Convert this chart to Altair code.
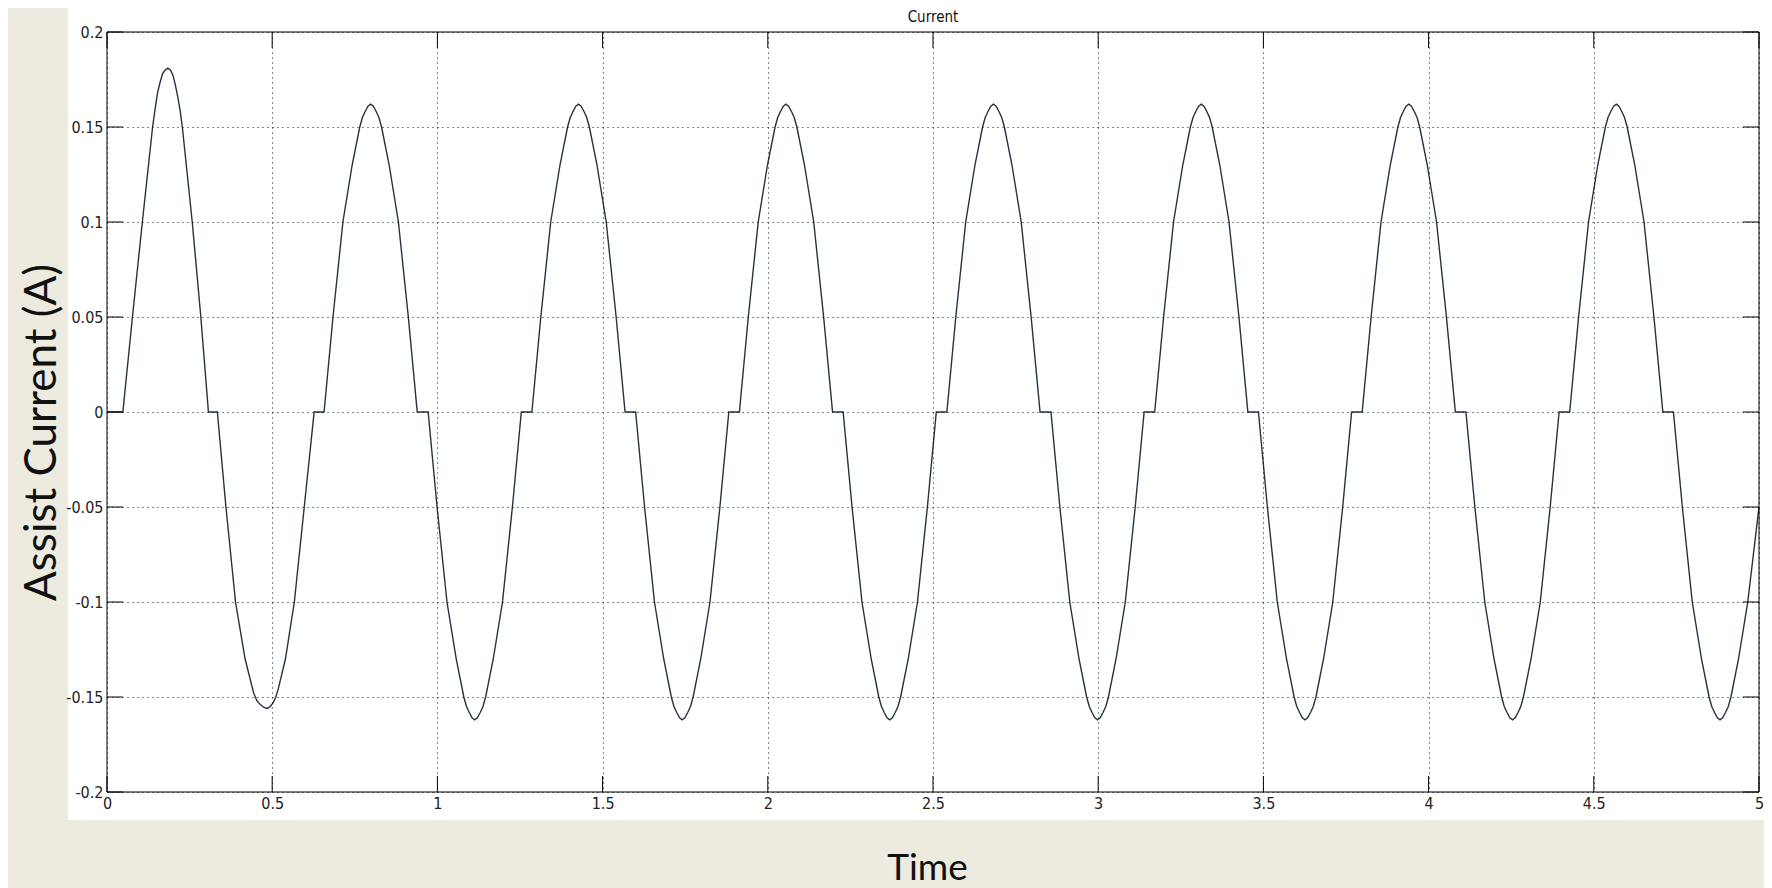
import altair as alt
import pandas as pd

# ---- data ----
time_s = [
    0.000, 0.048,
    0.077, 0.107, 0.138, 0.146, 0.153, 0.160, 0.168, 0.176, 0.184, 0.192, 0.200, 0.207, 0.214, 0.221, 0.228, 0.258, 0.284, 0.307,
    0.334, 0.360, 0.389, 0.418, 0.444, 0.454, 0.464, 0.475, 0.485, 0.494, 0.503, 0.511, 0.518, 0.540, 0.567, 0.597, 0.627,
    0.657, 0.684, 0.714, 0.742, 0.765, 0.773, 0.781, 0.790, 0.798, 0.806, 0.815, 0.823, 0.831, 0.854, 0.882, 0.912, 0.939,
    0.972, 0.999, 1.029, 1.057, 1.080, 1.088, 1.096, 1.105, 1.113, 1.121, 1.130, 1.138, 1.146, 1.169, 1.197, 1.227, 1.254,
    1.286, 1.313, 1.343, 1.371, 1.394, 1.402, 1.410, 1.419, 1.427, 1.435, 1.444, 1.452, 1.460, 1.483, 1.511, 1.541, 1.568,
    1.600, 1.627, 1.657, 1.685, 1.708, 1.716, 1.724, 1.733, 1.741, 1.749, 1.758, 1.766, 1.774, 1.797, 1.825, 1.855, 1.882,
    1.914, 1.941, 1.971, 1.999, 2.022, 2.030, 2.038, 2.047, 2.055, 2.063, 2.072, 2.080, 2.088, 2.111, 2.139, 2.169, 2.196,
    2.228, 2.255, 2.285, 2.313, 2.336, 2.344, 2.352, 2.361, 2.369, 2.377, 2.386, 2.394, 2.402, 2.425, 2.453, 2.483, 2.510,
    2.542, 2.569, 2.599, 2.627, 2.650, 2.658, 2.666, 2.675, 2.683, 2.691, 2.700, 2.708, 2.716, 2.739, 2.767, 2.797, 2.824,
    2.857, 2.884, 2.914, 2.942, 2.965, 2.973, 2.981, 2.990, 2.998, 3.006, 3.015, 3.023, 3.031, 3.054, 3.082, 3.112, 3.139,
    3.171, 3.198, 3.228, 3.256, 3.279, 3.287, 3.295, 3.304, 3.312, 3.320, 3.329, 3.337, 3.345, 3.368, 3.396, 3.426, 3.453,
    3.485, 3.512, 3.542, 3.570, 3.593, 3.601, 3.609, 3.618, 3.626, 3.634, 3.643, 3.651, 3.659, 3.682, 3.710, 3.740, 3.767,
    3.799, 3.826, 3.856, 3.884, 3.907, 3.915, 3.923, 3.932, 3.940, 3.948, 3.957, 3.965, 3.973, 3.996, 4.024, 4.054, 4.081,
    4.113, 4.140, 4.170, 4.198, 4.221, 4.229, 4.237, 4.246, 4.254, 4.262, 4.271, 4.279, 4.287, 4.310, 4.338, 4.368, 4.395,
    4.427, 4.454, 4.484, 4.512, 4.535, 4.543, 4.551, 4.560, 4.568, 4.576, 4.585, 4.593, 4.601, 4.624, 4.652, 4.682, 4.709,
    4.741, 4.768, 4.798, 4.826, 4.849, 4.857, 4.865, 4.874, 4.882, 4.890, 4.899, 4.907, 4.915, 4.938, 4.966, 5.000,
]

current_a = [
    0.0, 0.0,
    0.05, 0.10, 0.15, 0.160, 0.168, 0.173, 0.178, 0.180, 0.181, 0.180, 0.177, 0.172, 0.166, 0.159, 0.15, 0.10, 0.05, 0.0,
    0.0, -0.05, -0.10, -0.13, -0.148, -0.152, -0.154, -0.1555, -0.156, -0.155, -0.153, -0.150, -0.146, -0.13, -0.10, -0.05, 0.0,
    0.0, 0.05, 0.10, 0.13, 0.15, 0.155, 0.158, 0.161, 0.162, 0.161, 0.158, 0.155, 0.15, 0.13, 0.10, 0.05, 0.0,
    0.0, -0.05, -0.10, -0.13, -0.15, -0.155, -0.158, -0.161, -0.162, -0.161, -0.158, -0.155, -0.15, -0.13, -0.10, -0.05, 0.0,
    0.0, 0.05, 0.10, 0.13, 0.15, 0.155, 0.158, 0.161, 0.162, 0.161, 0.158, 0.155, 0.15, 0.13, 0.10, 0.05, 0.0,
    0.0, -0.05, -0.10, -0.13, -0.15, -0.155, -0.158, -0.161, -0.162, -0.161, -0.158, -0.155, -0.15, -0.13, -0.10, -0.05, 0.0,
    0.0, 0.05, 0.10, 0.13, 0.15, 0.155, 0.158, 0.161, 0.162, 0.161, 0.158, 0.155, 0.15, 0.13, 0.10, 0.05, 0.0,
    0.0, -0.05, -0.10, -0.13, -0.15, -0.155, -0.158, -0.161, -0.162, -0.161, -0.158, -0.155, -0.15, -0.13, -0.10, -0.05, 0.0,
    0.0, 0.05, 0.10, 0.13, 0.15, 0.155, 0.158, 0.161, 0.162, 0.161, 0.158, 0.155, 0.15, 0.13, 0.10, 0.05, 0.0,
    0.0, -0.05, -0.10, -0.13, -0.15, -0.155, -0.158, -0.161, -0.162, -0.161, -0.158, -0.155, -0.15, -0.13, -0.10, -0.05, 0.0,
    0.0, 0.05, 0.10, 0.13, 0.15, 0.155, 0.158, 0.161, 0.162, 0.161, 0.158, 0.155, 0.15, 0.13, 0.10, 0.05, 0.0,
    0.0, -0.05, -0.10, -0.13, -0.15, -0.155, -0.158, -0.161, -0.162, -0.161, -0.158, -0.155, -0.15, -0.13, -0.10, -0.05, 0.0,
    0.0, 0.05, 0.10, 0.13, 0.15, 0.155, 0.158, 0.161, 0.162, 0.161, 0.158, 0.155, 0.15, 0.13, 0.10, 0.05, 0.0,
    0.0, -0.05, -0.10, -0.13, -0.15, -0.155, -0.158, -0.161, -0.162, -0.161, -0.158, -0.155, -0.15, -0.13, -0.10, -0.05, 0.0,
    0.0, 0.05, 0.10, 0.13, 0.15, 0.155, 0.158, 0.161, 0.162, 0.161, 0.158, 0.155, 0.15, 0.13, 0.10, 0.05, 0.0,
    0.0, -0.05, -0.10, -0.13, -0.15, -0.155, -0.158, -0.161, -0.162, -0.161, -0.158, -0.155, -0.15, -0.13, -0.10, -0.05,
]

x_ticks = [0, 0.5, 1, 1.5, 2, 2.5, 3, 3.5, 4, 4.5, 5]
y_ticks = [-0.2, -0.15, -0.1, -0.05, 0, 0.05, 0.1, 0.15, 0.2]

chart_title = "Current"
x_title = "Time"
y_title = "Assist Current (A)"

# ---- layout ----
W, H = 1652, 760
TICK = 16
PAD_R = 5
BEIGE = "#EDEAE0"
LABEL_FONT = "Liberation Sans Narrow, DejaVu Sans Condensed, Liberation Sans, Arial"
TITLE_FONT = "Lato, Open Sans, sans-serif"
fmt = "replace(format(datum.value, '~g'), '\u2212', '-')"

wave = pd.DataFrame({"t": time_s, "i": current_a})
xt = pd.DataFrame({"v": x_ticks})
yt = pd.DataFrame({"v": y_ticks})
one = pd.DataFrame({"k": [0]})

xscale = alt.Scale(domain=[0, 5], nice=False, zero=False)
yscale = alt.Scale(domain=[-0.2, 0.2], nice=False, zero=False)

x_axis = alt.Axis(
    values=x_ticks, title=x_title, grid=True, gridDash=[1, 4], gridColor="#000",
    gridOpacity=0.95, gridWidth=1.1, ticks=False, domain=False,
    labelFont=LABEL_FONT, labelFontSize=16, labelColor="#222", labelPadding=3,
    labelFlush=False, labelOverlap=False, labelExpr=fmt,
    titleFont=TITLE_FONT, titleFontSize=37, titleFontWeight="normal", titleColor="#111",
    titleX=W / 2 - 6, titleY=87, titleBaseline="alphabetic", titleAlign="center",
    zindex=1,
)
y_axis = alt.Axis(
    values=y_ticks, title=y_title, grid=True, gridDash=[1, 4], gridColor="#000",
    gridOpacity=0.95, gridWidth=1.1, ticks=False, domain=False,
    labelFont=LABEL_FONT, labelFontSize=16, labelColor="#222", labelPadding=4,
    labelFlush=False, labelOverlap=False, labelExpr=fmt,
    titleFont=TITLE_FONT, titleFontSize=44, titleFontWeight="normal", titleColor="#111",
    titleAngle=270, titleX=-52, titleY=400, titleBaseline="alphabetic", titleAlign="center",
    zindex=1,
)

panel = alt.Chart(one).mark_rect(color="white").encode(
    x=alt.value(-39), x2=alt.value(W + PAD_R), y=alt.value(-24), y2=alt.value(H + 28)
)

title_text = alt.Chart(one).mark_text(
    text=chart_title, font=LABEL_FONT, fontSize=15, color="#111",
    align="center", baseline="alphabetic",
).encode(x=alt.value(W / 2), y=alt.value(-10))

line = alt.Chart(wave).mark_line(color="#263241", strokeWidth=1.4).encode(
    x=alt.X("t:Q", scale=xscale, axis=x_axis),
    y=alt.Y("i:Q", scale=yscale, axis=y_axis),
)

tick_l = alt.Chart(yt).mark_rule(color="black", strokeWidth=1).encode(
    y=alt.Y("v:Q", scale=yscale, axis=y_axis), x=alt.value(0), x2=alt.value(TICK)
)
tick_r = alt.Chart(yt).mark_rule(color="black", strokeWidth=1).encode(
    y=alt.Y("v:Q", scale=yscale, axis=y_axis), x=alt.value(W - TICK), x2=alt.value(W)
)
tick_b = alt.Chart(xt).mark_rule(color="black", strokeWidth=1).encode(
    x=alt.X("v:Q", scale=xscale, axis=x_axis), y=alt.value(H - TICK), y2=alt.value(H)
)
tick_t = alt.Chart(xt).mark_rule(color="black", strokeWidth=1).encode(
    x=alt.X("v:Q", scale=xscale, axis=x_axis), y=alt.value(0), y2=alt.value(TICK)
)

frame = alt.Chart(one).mark_rect(filled=False, stroke="black", strokeWidth=1).encode(
    x=alt.value(0), x2=alt.value(W), y=alt.value(0), y2=alt.value(H)
)

chart = alt.layer(panel, title_text, line, tick_l, tick_r, tick_b, tick_t, frame).properties(
    width=W, height=H,
    padding={"left": 99, "top": 24, "right": PAD_R, "bottom": 98},
    autosize=alt.AutoSizeParams(type="none"),
    background=BEIGE,
).configure_view(stroke=None)

chart.save("out.html", embed_options={"renderer": "svg", "actions": False})
